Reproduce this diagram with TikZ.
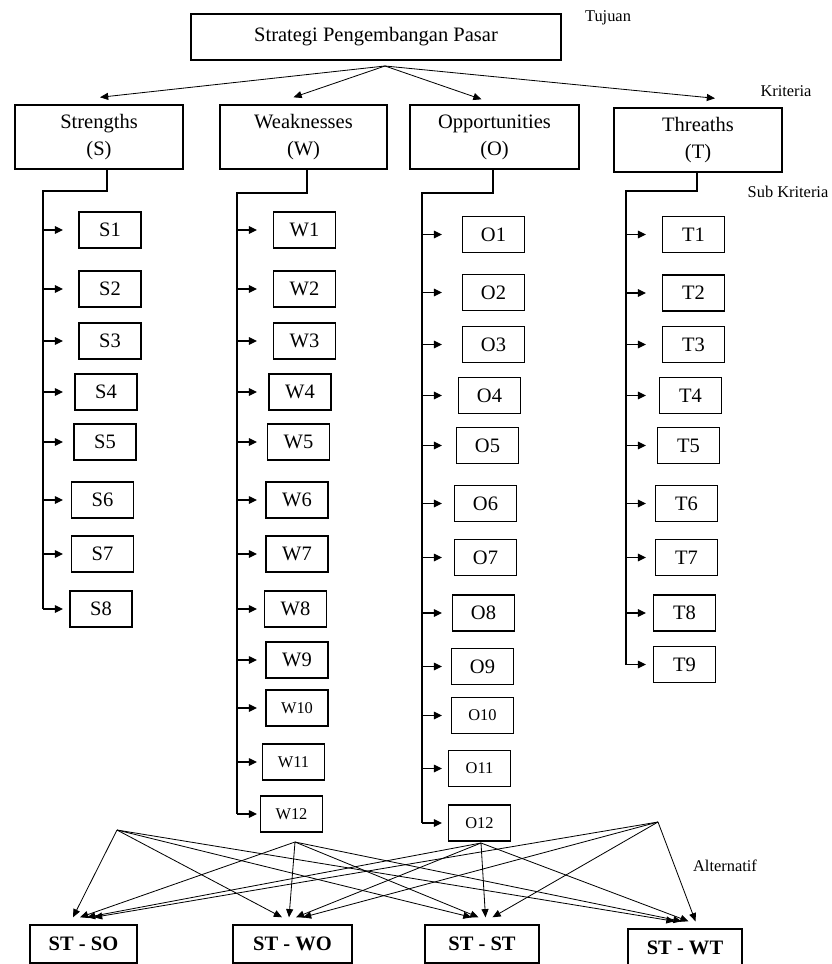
\documentclass[tikz,border=0pt]{standalone}
\usepackage{fontspec}
\setmainfont{Liberation Serif}
\usetikzlibrary{arrows.meta, calc}
\newdimen\px \px=0.03cm
\newcommand{\smallsub}{\fontsize{14}{16}\selectfont}
\tikzset{
  box/.style={draw, line width=1.2pt, align=center, inner sep=0pt, font=\fontsize{17.5}{23}\selectfont},
  critbox/.style={box, minimum width=168\px, minimum height=64\px},
  subbox/.style={box, minimum width=62\px, minimum height=36\px},
  altbox/.style={box, minimum height=38\px, font=\fontsize{17.5}{19}\selectfont\bfseries},
  link/.style={line width=1pt},
  arrow/.style={-{Triangle[length=7pt, width=6.5pt]}, line width=1pt},
  fanarrow/.style={-{Triangle[length=7pt, width=6pt]}, line width=0.7pt},
  note/.style={font=\fontsize{14}{16}\selectfont},
}

\begin{document}
\begin{tikzpicture}[x=0.03cm, y=-0.03cm]
  \useasboundingbox (0,0) rectangle (831,964);
  % tujuan
  \node[box, minimum width=370\px, minimum height=46\px] (goal) at (376,37) {Strategi Pengembangan Pasar};
  \node[note] (tujuan) at (608,18) {Tujuan};
  % kriteria
  \node[critbox] (critS) at (99,137) {Strengths\\(S)};
  \node[critbox, minimum width=167\px] (critW) at (303.5,137) {Weaknesses\\(W)};
  \node[critbox, minimum width=169\px] (critO) at (494.5,137) {Opportunities\\(O)};
  \node[critbox] (critT) at (698,140) {Threaths\\(T)};
  \node[note] (kriteria) at (786,91) {Kriteria};
  \node[note] (subkriteria) at (788,192) {Sub Kriteria};
  \coordinate (fan) at (385,66);
  \draw[fanarrow] (fan) -- ($(critS.north)+(1,-7)$);
  \draw[fanarrow] (fan) -- ($(critW.north)+(-10,-7)$);
  \draw[fanarrow] (fan) -- ($(critO.north)+(-13,-5)$);
  \draw[fanarrow] (fan) -- ($(critT.north)+(17,-9)$);
  % sub kriteria
  \foreach \n/\x/\y in {1/110/230, 2/110/289, 3/110/341, 4/106/392, 5/105/442, 6/102.5/500, 7/102.5/554, 8/101/609}
    \node[subbox] (S\n) at (\x,\y) {S\n};
  \foreach \n/\x/\y in {1/304.5/230, 2/304.5/289, 3/304.5/341, 4/300/392, 5/298.5/442, 6/297/500, 7/297/554, 8/295.5/609, 9/297/660, 10/297/708, 11/293.5/762, 12/291.5/814}
    \node[subbox] (W\n) at (\x,\y) {\ifnum\n>9\smallsub\fi W\n};
  \foreach \n/\x/\y in {1/493.5/234.5, 2/493.5/292.5, 3/493.5/344.5, 4/489.5/395.5, 5/487.5/445.5, 6/485.5/503.5, 7/485.5/557.5, 8/483.5/613, 9/482.5/666.5, 10/482.5/715.5, 11/479.5/768.5, 12/479.5/823}
    \node[subbox] (O\n) at (\x,\y) {\ifnum\n>9\smallsub\fi O\n};
  \foreach \n/\x/\y in {1/693.5/234.5, 2/693.5/293, 3/693.5/344.5, 4/690.5/395.5, 5/688.5/445.5, 6/686.5/503.5, 7/686.5/557.5, 8/684.5/613, 9/684.5/664.5}
    \node[subbox] (T\n) at (\x,\y) {T\n};
  \coordinate (lineS) at (43,191);
  \coordinate (lineW) at (237,193);
  \coordinate (lineO) at (422,193);
  \coordinate (lineT) at (626,191);
  \draw[link] ($(critS.south)+(8,0)$) |- (lineS) -- (lineS |- S8.west);
  \draw[link] ($(critW.south)+(3.5,0)$) |- (lineW) -- (lineW |- W12.west);
  \draw[link] ($(critO.south)+(-1.5,0)$) |- (lineO) -- (lineO |- O12.west);
  \draw[link] ($(critT.south)+(-1,0)$) |- (lineT) -- (lineT |- T9.west);
  \foreach \n in {1,...,8} \draw[arrow] (lineS |- S\n.west) -- ++(20,0);
  \foreach \n in {1,...,12} \draw[arrow] (lineW |- W\n.west) -- ++(20,0);
  \foreach \n in {1,...,12} \draw[arrow] (lineO |- O\n.west) -- ++(20,0);
  \foreach \n in {1,...,9} \draw[arrow] (lineT |- T\n.west) -- ++(20,0);
  % alternatif
  \node[altbox, minimum width=107\px] (altSO) at (83.5,944) {ST - SO};
  \node[altbox, minimum width=119\px] (altWO) at (292.5,944) {ST - WO};
  \node[altbox, minimum width=114\px] (altST) at (482,944) {ST - ST};
  \node[altbox, minimum width=114\px] (altWT) at (685,948) {ST - WT};
  \node[note] (alternatif) at (725,866) {Alternatif};
  \coordinate (srcS) at (117,830);
  \coordinate (srcW) at (295,842);
  \coordinate (srcO) at (481,843);
  \coordinate (srcT) at (658,822);
  \foreach \s [count=\i] in {srcS,srcW,srcO,srcT}
    \foreach \a in {altSO,altWO,altST,altWT}
      \draw[fanarrow] (\s) -- ($(\a.north)+({(\i-2.5)*7},-7)$);
\end{tikzpicture}
\end{document}
